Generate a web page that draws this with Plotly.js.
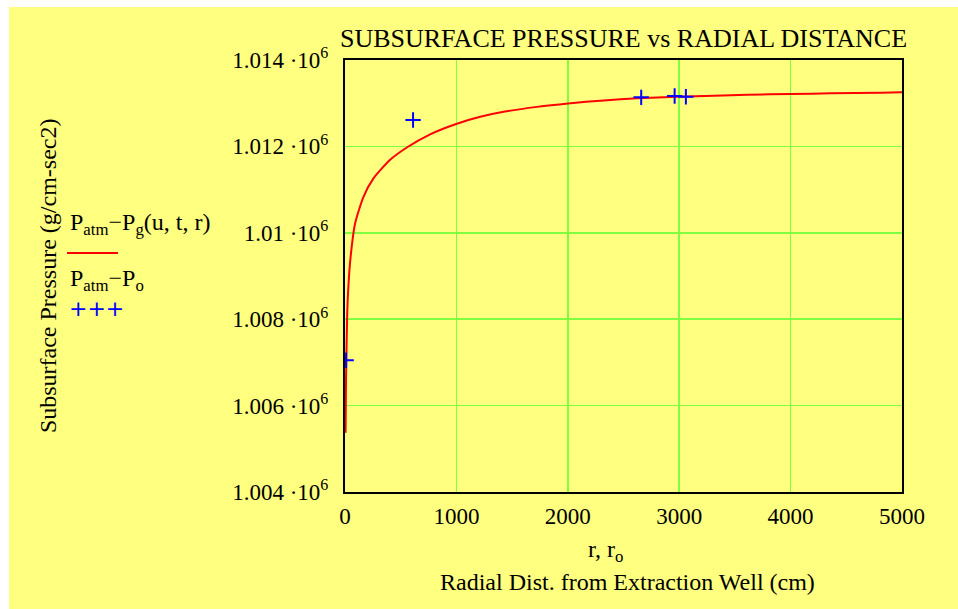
<!DOCTYPE html>
<html>
<head>
<meta charset="utf-8">
<script src="https://cdn.plot.ly/plotly-3.0.1.min.js"></script>
<style>
  html, body { margin: 0; padding: 0; background: #ffffff; width: 958px; height: 609px; overflow: hidden; }
  #chart { position: absolute; left: 9px; top: 7px; width: 949px; height: 602px; }
</style>
</head>
<body>
<div id="chart"></div>
<script>
// Model curve: Patm - Pg(u,t,r) vs radial distance r (cm)
var rCurve = [5, 9, 20, 30, 50, 90, 165, 254, 405, 555, 764, 998, 1214, 1424, 1724, 2003, 2323, 2623, 2983, 3312, 3612, 4002, 4362, 4811, 5000];
var pCurve = [1005370, 1006575, 1008150, 1008740, 1009436, 1010211, 1010828, 1011255, 1011690, 1011975, 1012280, 1012520, 1012685, 1012800, 1012915, 1012995, 1013065, 1013113, 1013150, 1013174, 1013195, 1013213, 1013228, 1013243, 1013251];

// Observed: Patm - Po vs ro (cm)
var rObs = [10, 611, 2659, 2959, 3060];
var pObs = [1007050, 1012610, 1013135, 1013165, 1013150];

// Axis ticks
var xTicks = [0, 1000, 2000, 3000, 4000, 5000];
var yTicks = [1004000, 1006000, 1008000, 1010000, 1012000, 1014000];
var yTickText = ['1.004 \u00b710<sup>6</sup>', '1.006 \u00b710<sup>6</sup>', '1.008 \u00b710<sup>6</sup>', '1.01 \u00b710<sup>6</sup>', '1.012 \u00b710<sup>6</sup>', '1.014 \u00b710<sup>6</sup>'];

var FONT = 'Liberation Serif, Times New Roman, serif';

var traces = [
  {
    x: rCurve, y: pCurve, type: 'scatter', mode: 'lines',
    line: { color: '#ff0000', width: 2, shape: 'spline', smoothing: 0.6 },
    showlegend: false, hoverinfo: 'skip'
  },
  {
    x: rObs, y: pObs, type: 'scatter', mode: 'markers',
    marker: { symbol: 'cross-thin', size: 11, color: '#0000ff', line: { color: '#0000ff', width: 2 } },
    showlegend: false, hoverinfo: 'skip'
  }
];

// plot area in div coords: left 336, top 53, width 557, height 432
var layout = {
  width: 949, height: 602,
  paper_bgcolor: '#ffff80', plot_bgcolor: '#ffff80',
  margin: { l: 336, r: 56, t: 53, b: 117, pad: 0 },
  font: { family: FONT, size: 24, color: '#000000' },
  title: {
    text: 'SUBSURFACE PRESSURE vs RADIAL DISTANCE',
    font: { family: FONT, size: 26, color: '#000000' },
    x: 0.5, xref: 'paper', xanchor: 'center',
    y: 1, yref: 'paper', yanchor: 'bottom', pad: { b: 13 }
  },
  xaxis: {
    range: [0, 5000], tickvals: xTicks, ticktext: xTicks.map(String),
    showgrid: true, gridcolor: '#80ff40', gridwidth: 1.5,
    showline: true, linecolor: '#000000', linewidth: 2, mirror: true,
    ticks: 'outside', ticklen: 2, tickcolor: 'rgba(0,0,0,0)',
    zeroline: false,
    tickfont: { family: FONT, size: 23, color: '#000000' }
  },
  yaxis: {
    range: [1004000, 1014000], tickvals: yTicks, ticktext: yTickText,
    showgrid: true, gridcolor: '#80ff40', gridwidth: 1.5,
    showline: true, linecolor: '#000000', linewidth: 2, mirror: true,
    ticks: 'outside', ticklen: 10, tickcolor: 'rgba(0,0,0,0)',
    zeroline: false,
    tickfont: { family: FONT, size: 23, color: '#000000' }
  },
  shapes: [
    { type: 'line', xref: 'paper', yref: 'paper', x0: -0.4991, x1: -0.4075, y0: 0.5532, y1: 0.5532,
      line: { color: '#ff0000', width: 2 } }
  ],
  annotations: [
    { text: 'r, r<sub>o</sub>', xref: 'paper', yref: 'paper', x: 0.467, y: -0.137,
      xanchor: 'center', yanchor: 'middle', showarrow: false, font: { family: FONT, size: 24 } },
    { text: 'Radial Dist. from Extraction Well (cm)', xref: 'paper', yref: 'paper', x: 0.508, y: -0.208,
      xanchor: 'center', yanchor: 'middle', showarrow: false, font: { family: FONT, size: 24 } },
    { text: 'Subsurface Pressure (g/cm-sec2)', xref: 'paper', yref: 'paper', x: -0.533, y: 0.5,
      xanchor: 'center', yanchor: 'middle', textangle: -90, showarrow: false, font: { family: FONT, size: 24 } },
    { text: 'P<sub>atm</sub>\u2212P<sub>g</sub>(u, t, r)', xref: 'paper', yref: 'paper', x: -0.4973, y: 0.62,
      xanchor: 'left', yanchor: 'middle', showarrow: false, font: { family: FONT, size: 24 } },
    { text: 'P<sub>atm</sub>\u2212P<sub>o</sub>', xref: 'paper', yref: 'paper', x: -0.4973, y: 0.49,
      xanchor: 'left', yanchor: 'middle', showarrow: false, font: { family: FONT, size: 24 } },
    { text: '+++', xref: 'paper', yref: 'paper', x: -0.5, y: 0.4259,
      xanchor: 'left', yanchor: 'middle', showarrow: false, font: { family: 'DejaVu Sans', size: 22, color: '#0000ff' } }
  ]
};

Plotly.newPlot('chart', traces, layout, { staticPlot: true, displayModeBar: false });
</script>
</body>
</html>
